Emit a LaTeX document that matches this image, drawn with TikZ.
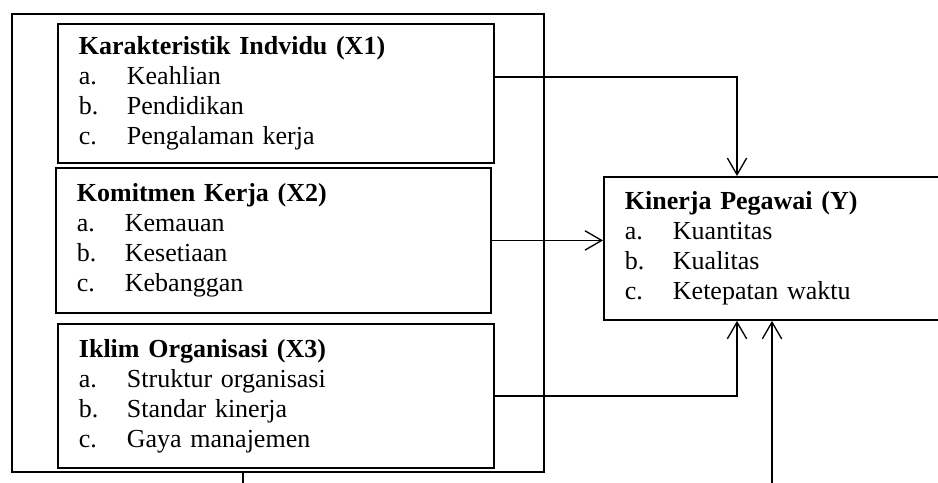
\documentclass[tikz,border=0pt]{standalone}
\usepackage{fontspec}
\setmainfont{Liberation Serif}
\usepackage{tikz}
\usetikzlibrary{positioning,calc,arrows.meta}

\newcommand{\butir}[2]{\makebox[36pt][l]{#1}#2}

\begin{document}
\begin{tikzpicture}[
	x=0.75pt, y=0.75pt, yscale=-1,
	kotak/.style={
		rectangle, draw=black, line width=1.4pt,
		anchor=north west, align=left,
		inner xsep=15.75pt, inner ysep=0pt,
		font=\fontsize{19.5}{22.5}\selectfont
	},
	luar/.style={
		rectangle, draw=black, line width=1.4pt,
		anchor=north west, inner sep=0pt
	},
	panah/.style={-{Straight Barb[length=12.5pt, width=14.5pt]}, line width=1pt},
	garis/.style={line width=1pt}
	]
	
	\useasboundingbox (0,0) rectangle (938,482);
	
	% --- kotak luar (X1, X2, X3) ---
	\node[luar, minimum width=399pt, minimum height=343.5pt] (luar) at (11,13) {};
	
	% --- variabel bebas ---
	\node[kotak, text width=295.5pt, minimum height=104.25pt] (X1) at (57,23)
		{\textbf{Karakteristik Indvidu (X1)}\\
		 \butir{a.}{Keahlian}\\
		 \butir{b.}{Pendidikan}\\
		 \butir{c.}{Pengalaman kerja}};
	\node[kotak, text width=294.75pt, minimum height=108.75pt] (X2) at (55,167)
		{\textbf{Komitmen Kerja (X2)}\\
		 \butir{a.}{Kemauan}\\
		 \butir{b.}{Kesetiaan}\\
		 \butir{c.}{Kebanggan}};
	\node[kotak, text width=295.5pt, minimum height=108pt] (X3) at (57,323)
		{\textbf{Iklim Organisasi (X3)}\\
		 \butir{a.}{Struktur organisasi}\\
		 \butir{b.}{Standar kinerja}\\
		 \butir{c.}{Gaya manajemen}};
	
	% --- variabel terikat ---
	\node[kotak, text width=238.5pt, minimum height=107.25pt] (Y) at (603,176)
		{\textbf{Kinerja Pegawai (Y)}\\
		 \butir{a.}{Kuantitas}\\
		 \butir{b.}{Kualitas}\\
		 \butir{c.}{Ketepatan waktu}};
	
	% --- panah ---
	\draw[panah] ([yshift=-12.4pt]X1.east) -| ([xshift=100.5pt]Y.north west);
	\draw[panah] (X2.east) -- (X2.east -| Y.west);
	\draw[panah] (X3.east) -| ([xshift=100.5pt]Y.south west);
	
	\coordinate (ujung1) at (243,495);
	\coordinate (ujung2) at (772,495);
	\draw[garis] (luar.south -| ujung1) -- (ujung1);
	\draw[panah] (ujung2) -- (ujung2 |- Y.south);
	
\end{tikzpicture}
\end{document}
